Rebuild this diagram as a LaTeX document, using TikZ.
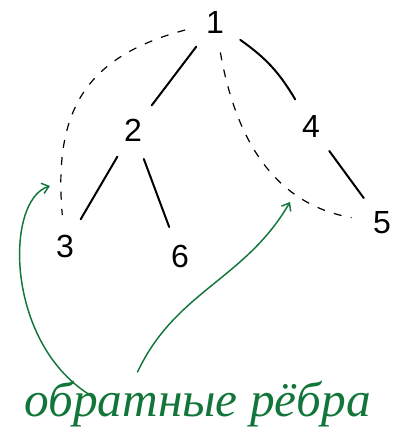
\documentclass[tikz,border=0pt]{standalone}
\usepackage{fontspec}
\setmainfont{Liberation Sans}
\newfontfamily\handfont{Liberation Serif}
\usepackage{xcolor}
\definecolor{notegreen}{RGB}{18,118,58}
\usetikzlibrary{arrows.meta,positioning}

\begin{document}
\begin{tikzpicture}[x=0.75pt, y=0.75pt,
    every node/.style={font=\fontsize{24}{24}\selectfont},
    vertex/.style={circle, minimum size=46pt, inner sep=0pt},
    treeedge/.style={line width=1.5pt, line cap=round},
    backedge/.style={line width=0.9pt, dash pattern=on 6pt off 7pt},
    notearrow/.style={-{Straight Barb[length=5pt, width=8pt]}, line width=1.1pt, color=notegreen}]
    \useasboundingbox (0,0) rectangle (394,-446);

    % Vertices
    \node[vertex] (v1) at (215,-22) {1};
    \node[vertex] (v2) at (133,-130) {2};
    \node[vertex] (v4) at (311,-126) {4};
    \node[vertex] (v3) at (65,-246) {3};
    \node[vertex] (v6) at (180,-256) {6};
    \node[vertex] (v5) at (382,-223) {5};

    % Caption
    \node[font=\handfont\itshape\fontsize{37}{37}\selectfont, color=notegreen, anchor=base west, inner sep=0pt] (note) at (24,-416) {обратные рёбра};

    % Tree edges
    \draw[treeedge] (v1) -- (v2);
    \draw[treeedge] (v1) to[bend left=12] (v4);
    \draw[treeedge] (v2) -- (v3);
    \draw[treeedge] (v2) -- (v6);
    \draw[treeedge] (v4) -- (v5);

    % Back edges
    \draw[backedge] (v1) to[out=195, in=95, looseness=1.2] (v3);
    \draw[backedge] (v1) to[out=-80, in=170] (v5);

    % Arrows from the caption
    \coordinate (tipL) at (50,-186);
    \coordinate (tipR) at (290,-202);
    \draw[notearrow] ([xshift=48pt, yshift=-10pt]note.north west) .. controls (5,-340) and (5,-200) .. (tipL);
    \draw[notearrow] ([xshift=85pt, yshift=6pt]note.north west) to[out=65, in=-120] (tipR);
\end{tikzpicture}
\end{document}
